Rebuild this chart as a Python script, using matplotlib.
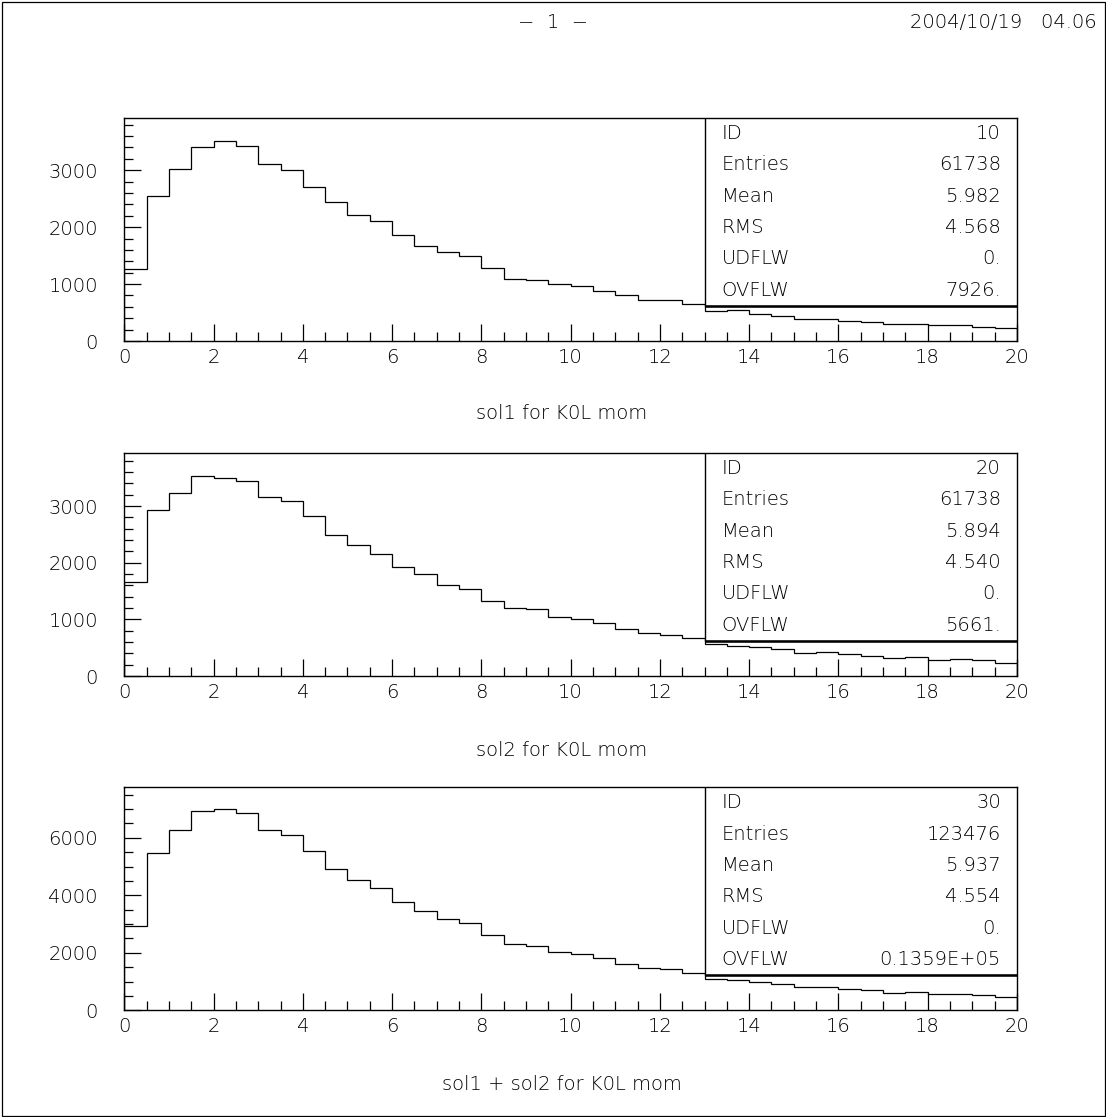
import numpy as np
import matplotlib
matplotlib.use("Agg")
import matplotlib.pyplot as plt
from matplotlib.patches import Rectangle
from matplotlib.ticker import MultipleLocator

# bin edges: 40 bins of 0.5 GeV/c from 0 to 20
edges = np.linspace(0.0, 20.0, 41)

# ID 10: sol1 for K0L mom
sol1 = [1269, 2539, 3024, 3411, 3516, 3428, 3118, 3007, 2714, 2445,
        2217, 2100, 1854, 1673, 1556, 1492, 1287, 1094, 1065, 1000,
        965, 878, 801, 725, 715, 644, 527, 544, 468, 439,
        392, 380, 357, 333, 304, 298, 275, 275, 246, 228]

# ID 20: sol2 for K0L mom
sol2 = [1664, 2934, 3234, 3534, 3487, 3446, 3158, 3087, 2828, 2481,
        2317, 2152, 1923, 1793, 1611, 1535, 1329, 1205, 1182, 1047,
        1000, 941, 829, 759, 729, 664, 570, 529, 512, 476,
        412, 423, 382, 359, 318, 335, 288, 300, 276, 229]

# ID 30: sol1 + sol2 for K0L mom
sol12 = [2930, 5470, 6255, 6940, 6995, 6860, 6270, 6092, 5538, 4915,
         4530, 4243, 3768, 3467, 3167, 3020, 2613, 2298, 2249, 2045,
         1950, 1808, 1620, 1485, 1430, 1303, 1105, 1070, 977, 915,
         802, 808, 735, 694, 618, 624, 560, 578, 522, 455]

titles = ["sol1 for K0L mom", "sol2 for K0L mom", "sol1 + sol2 for K0L mom"]
stat_names = ["ID", "Entries", "Mean", "RMS", "UDFLW", "OVFLW"]
stat_values = [
    ["10", "61738", "5.982", "4.568", "0.", "7926."],
    ["20", "61738", "5.894", "4.540", "0.", "5661."],
    ["30", "123476", "5.937", "4.554", "0.", "0.1359E+05"],
]
ymax = [3920, 3940, 7760]
ymajor = [1000, 1000, 2000]
yminor = [200, 200, 500]

plt.rcParams['font.family'] = ['DejaVu Sans']
plt.rcParams['font.weight'] = 'ultralight'
FS = 14

fig = plt.figure(figsize=(11.06, 11.17), dpi=100)

# page frame
fig.add_artist(Rectangle((1.5 / 1106, 1.5 / 1117), 1103 / 1106, 1114 / 1117,
                         transform=fig.transFigure, fill=False,
                         edgecolor='black', linewidth=0.9))
fig.text(0.5, 1 - 22 / 1117, "\u2212  1  \u2212", ha='center', va='center', fontsize=FS)
fig.text(1097 / 1106, 1 - 22 / 1117, "2004/10/19   04.06", ha='right', va='center',
         fontsize=FS)

bottoms = [0.6947, 0.3948, 0.0955]
title_y = [1 - 414 / 1117, 1 - 750 / 1117, 1 - 1085 / 1117]
box_x0, box_y0 = 0.65, 0.157

for k, counts in enumerate([sol1, sol2, sol12]):
    ax = fig.add_axes([0.1124, bottoms[k], 0.8071, 0.1998])
    ax.stairs(counts, edges, baseline=0, color='black', linewidth=0.9, zorder=2)
    ax.set_xlim(0, 20)
    ax.set_ylim(0, ymax[k])

    ax.xaxis.set_major_locator(MultipleLocator(2))
    ax.xaxis.set_minor_locator(MultipleLocator(0.5))
    ax.yaxis.set_major_locator(MultipleLocator(ymajor[k]))
    ax.yaxis.set_minor_locator(MultipleLocator(yminor[k]))
    ax.tick_params(which='both', direction='in', top=False, right=False,
                   width=0.9, labelsize=FS)
    ax.tick_params(which='major', length=12.2)
    ax.tick_params(which='minor', length=6.3)
    ax.tick_params(axis='x', which='major', pad=5)
    ax.tick_params(axis='y', which='major', pad=19)
    for sp in ax.spines.values():
        sp.set_linewidth(1.0)

    # statistics box
    ax.add_patch(Rectangle((box_x0, box_y0), 1 - box_x0, 1 - box_y0,
                           transform=ax.transAxes, facecolor='white',
                           edgecolor='black', linewidth=1.0, zorder=3))
    ax.plot([box_x0, 1.0], [box_y0, box_y0], transform=ax.transAxes,
            color='black', linewidth=1.8, zorder=4, solid_capstyle='butt')
    row_h = (1 - box_y0) / len(stat_names)
    for i, (name, val) in enumerate(zip(stat_names, stat_values[k])):
        yc = 1 - row_h * (i + 0.5)
        ax.text(0.669, yc, name, transform=ax.transAxes, ha='left', va='center',
                fontsize=FS, zorder=5)
        ax.text(0.982, yc, val, transform=ax.transAxes, ha='right', va='center',
                fontsize=FS, zorder=5)

    fig.text(0.508, title_y[k], titles[k], ha='center', va='center', fontsize=FS)

fig.savefig("out.png", dpi=100)
